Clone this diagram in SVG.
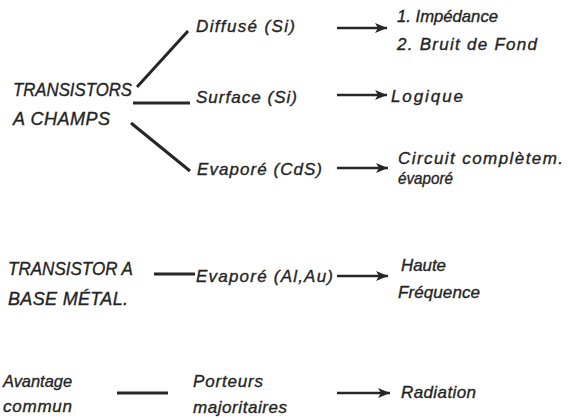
<svg xmlns="http://www.w3.org/2000/svg" width="571" height="419" viewBox="0 0 571 419">
<defs>
<style>
text{font-family:"Liberation Sans",Arial,sans-serif;font-style:italic;fill:#242424;stroke:#242424;stroke-width:0.35;font-size:17px}
.big{font-size:18px}
.ln{stroke:#262626;stroke-width:3;fill:none;stroke-linecap:butt}
.ar{stroke:#262626;stroke-width:2.5;fill:none}
</style>
<marker id="ah" markerUnits="userSpaceOnUse" markerWidth="14" markerHeight="12" refX="12" refY="5" orient="auto">
<path d="M0,0 L12,5 L0,10 L3,5 z" fill="#262626"/>
</marker>
</defs>
<rect width="571" height="419" fill="#fff"/>
<g id="connectors">
<line class="ln" x1="137" y1="87" x2="188" y2="31"/>
<line class="ln" x1="133" y1="103" x2="190" y2="103"/>
<line class="ln" x1="131" y1="123" x2="190" y2="171"/>
<line class="ln" x1="154" y1="274" x2="195" y2="274"/>
<line class="ln" x1="117" y1="393" x2="168" y2="393"/>
<line class="ar" x1="337" y1="28" x2="387" y2="28" marker-end="url(#ah)"/>
<line class="ar" x1="337" y1="95" x2="387" y2="95" marker-end="url(#ah)"/>
<line class="ar" x1="337" y1="168" x2="388" y2="168" marker-end="url(#ah)"/>
<line class="ar" x1="337" y1="276" x2="388" y2="276" marker-end="url(#ah)"/>
<line class="ar" x1="337" y1="393" x2="390" y2="393" marker-end="url(#ah)"/>
</g>
<g id="transistors-champs"><text class="big" x="13" y="96" textLength="119" lengthAdjust="spacingAndGlyphs">TRANSISTORS</text><text class="big" x="13" y="125" textLength="97" lengthAdjust="spacing">A CHAMPS</text></g>
<g id="diffuse"><text x="196" y="32" textLength="99" lengthAdjust="spacing">Diffusé (Si)</text></g>
<g id="surface"><text x="196" y="103" textLength="101" lengthAdjust="spacing">Surface (Si)</text></g>
<g id="evapore-cds"><text x="197" y="175" textLength="125" lengthAdjust="spacing">Evaporé (CdS)</text></g>
<g id="impedance"><text x="397" y="22" textLength="101" lengthAdjust="spacingAndGlyphs">1. Impédance</text><text x="397" y="50" textLength="140" lengthAdjust="spacing">2. Bruit de Fond</text></g>
<g id="logique"><text x="391" y="102" textLength="72" lengthAdjust="spacing">Logique</text></g>
<g id="circuit"><text x="398" y="164" textLength="165" lengthAdjust="spacing">Circuit complètem.</text><text x="398" y="184" textLength="55" lengthAdjust="spacingAndGlyphs">évaporé</text></g>
<g id="transistor-base"><text class="big" x="8" y="275" textLength="125" lengthAdjust="spacingAndGlyphs">TRANSISTOR A</text><text class="big" x="8" y="305" textLength="120" lengthAdjust="spacing">BASE MÉTAL.</text></g>
<g id="evapore-alau"><text x="196" y="282" textLength="137" lengthAdjust="spacing">Evaporé (Al,Au)</text></g>
<g id="haute-frequence"><text x="401" y="271" textLength="45" lengthAdjust="spacingAndGlyphs">Haute</text><text x="398" y="298" textLength="82" lengthAdjust="spacing">Fréquence</text></g>
<g id="avantage"><text x="3" y="387" textLength="69" lengthAdjust="spacingAndGlyphs">Avantage</text><text x="3" y="412" textLength="69" lengthAdjust="spacing">commun</text></g>
<g id="porteurs"><text x="193" y="387" textLength="70" lengthAdjust="spacing">Porteurs</text><text x="193" y="413" textLength="94" lengthAdjust="spacing">majoritaires</text></g>
<g id="radiation"><text x="401" y="398" textLength="75" lengthAdjust="spacing">Radiation</text></g>
</svg>
